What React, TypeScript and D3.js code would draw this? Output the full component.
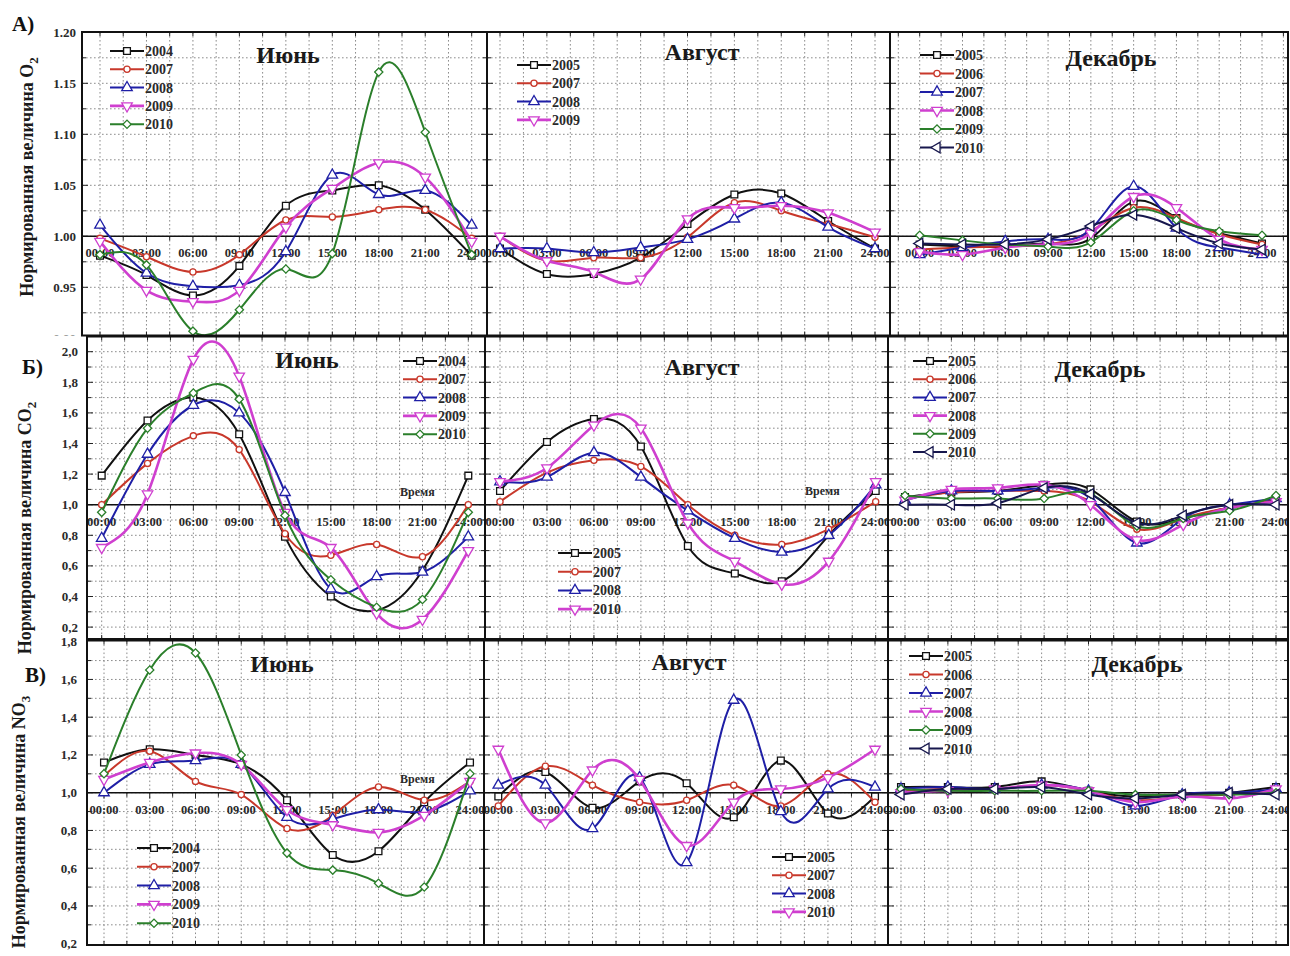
import React from "react";
import * as d3 from "d3";

// ---------- DATA ----------
const HOURS = [0, 3, 6, 9, 12, 15, 18, 21, 24];
const HOUR_LABELS = ["00:00", "03:00", "06:00", "09:00", "12:00", "15:00", "18:00", "21:00", "24:00"];
const MONTHS = ["Июнь", "Август", "Декабрь"];
const ROW_LETTERS = ["А)", "Б)", "В)"];
const Y_TITLES: [string, string][] = [
  ["Нормированная величина O", "2"],
  ["Нормированная величина CO", "2"],
  ["Нормированная величина NO", "3"],
];
const TIME_LABEL = "Время";

const O2_TICKS = [0.9, 0.95, 1.0, 1.05, 1.1, 1.15, 1.2];
const O2_TICK_LABELS = ["0.90", "0.95", "1.00", "1.05", "1.10", "1.15", "1.20"];
const CO2_TICKS = [0.2, 0.4, 0.6, 0.8, 1.0, 1.2, 1.4, 1.6, 1.8, 2.0];
const CO2_TICK_LABELS = ["0,2", "0,4", "0,6", "0,8", "1,0", "1,2", "1,4", "1,6", "1,8", "2,0"];
const NO3_TICKS = [0.2, 0.4, 0.6, 0.8, 1.0, 1.2, 1.4, 1.6, 1.8];
const NO3_TICK_LABELS = ["0,2", "0,4", "0,6", "0,8", "1,0", "1,2", "1,4", "1,6", "1,8"];

type Series = { year: string; values: number[] };

const O2_JUNE: Series[] = [
  { year: "2004", values: [0.981, 0.962, 0.942, 0.971, 1.03, 1.045, 1.05, 1.026, 0.981] },
  { year: "2007", values: [0.998, 0.98, 0.965, 0.982, 1.016, 1.019, 1.026, 1.026, 0.998] },
  { year: "2008", values: [1.011, 0.964, 0.951, 0.952, 0.985, 1.06, 1.041, 1.045, 1.011] },
  { year: "2009", values: [0.995, 0.947, 0.936, 0.947, 1.009, 1.047, 1.072, 1.058, 0.995] },
  { year: "2010", values: [0.982, 0.972, 0.907, 0.928, 0.968, 0.983, 1.161, 1.102, 0.982] },
];
const O2_AUGUST: Series[] = [
  { year: "2005", values: [0.988, 0.963, 0.963, 0.979, 1.012, 1.041, 1.042, 1.015, 0.988] },
  { year: "2007", values: [1.0, 0.976, 0.979, 0.979, 0.999, 1.033, 1.025, 1.012, 0.999] },
  { year: "2008", values: [0.988, 0.988, 0.984, 0.989, 0.997, 1.017, 1.033, 1.009, 0.988] },
  { year: "2009", values: [1.0, 0.976, 0.965, 0.958, 1.017, 1.028, 1.03, 1.023, 1.004] },
];
const O2_DECEMBER: Series[] = [
  { year: "2005", values: [0.992, 0.99, 0.99, 0.993, 0.998, 1.034, 1.018, 1.003, 0.993] },
  { year: "2006", values: [0.987, 0.989, 0.99, 0.992, 1.005, 1.028, 1.018, 1.002, 0.992] },
  { year: "2007", values: [0.982, 0.989, 0.995, 0.997, 1.007, 1.049, 1.008, 0.989, 0.982] },
  { year: "2008", values: [0.985, 0.982, 0.989, 0.992, 1.003, 1.039, 1.028, 0.997, 0.987] },
  { year: "2009", values: [1.001, 0.996, 0.992, 0.99, 0.994, 1.025, 1.016, 1.005, 1.001] },
  { year: "2010", values: [0.993, 0.992, 0.992, 0.997, 1.01, 1.021, 1.008, 0.993, 0.987] },
];

const CO2_JUNE: Series[] = [
  { year: "2004", values: [1.19, 1.55, 1.7, 1.46, 0.79, 0.4, 0.31, 0.57, 1.19] },
  { year: "2007", values: [1.0, 1.27, 1.45, 1.36, 0.81, 0.67, 0.74, 0.66, 1.0] },
  { year: "2008", values: [0.78, 1.33, 1.65, 1.6, 1.08, 0.45, 0.53, 0.56, 0.79] },
  { year: "2009", values: [0.72, 1.07, 1.95, 1.84, 0.95, 0.72, 0.29, 0.25, 0.7] },
  { year: "2010", values: [0.95, 1.5, 1.73, 1.69, 0.93, 0.51, 0.33, 0.38, 0.95] },
];
const CO2_AUGUST: Series[] = [
  { year: "2005", values: [1.09, 1.41, 1.56, 1.38, 0.73, 0.55, 0.5, 0.8, 1.09] },
  { year: "2007", values: [1.02, 1.21, 1.29, 1.25, 1.0, 0.8, 0.74, 0.84, 1.02] },
  { year: "2008", values: [1.15, 1.18, 1.34, 1.18, 0.96, 0.78, 0.69, 0.8, 1.13] },
  { year: "2010", values: [1.15, 1.24, 1.52, 1.5, 0.88, 0.63, 0.48, 0.63, 1.15] },
];
const CO2_DECEMBER: Series[] = [
  { year: "2005", values: [1.05, 1.08, 1.09, 1.13, 1.1, 0.89, 0.91, 0.98, 1.03] },
  { year: "2006", values: [1.04, 1.08, 1.09, 1.09, 1.02, 0.84, 0.91, 0.98, 1.03] },
  { year: "2007", values: [1.03, 1.09, 1.09, 1.11, 1.04, 0.75, 0.91, 1.0, 1.04] },
  { year: "2008", values: [1.03, 1.1, 1.11, 1.13, 1.0, 0.77, 0.87, 0.98, 1.02] },
  { year: "2009", values: [1.06, 1.04, 1.04, 1.04, 1.07, 0.86, 0.91, 0.96, 1.06] },
  { year: "2010", values: [1.0, 1.0, 1.01, 1.11, 1.07, 0.88, 0.93, 1.0, 1.0] },
];

const NO3_JUNE: Series[] = [
  { year: "2004", values: [1.16, 1.23, 1.2, 1.15, 0.96, 0.67, 0.69, 0.95, 1.16] },
  { year: "2007", values: [1.09, 1.22, 1.06, 0.99, 0.81, 0.88, 1.03, 0.96, 1.06] },
  { year: "2008", values: [1.0, 1.15, 1.17, 1.15, 0.87, 0.86, 0.91, 0.9, 1.01] },
  { year: "2009", values: [1.07, 1.16, 1.21, 1.15, 0.91, 0.83, 0.79, 0.88, 1.06] },
  { year: "2010", values: [1.1, 1.65, 1.74, 1.2, 0.68, 0.59, 0.52, 0.5, 1.1] },
];
const NO3_AUGUST: Series[] = [
  { year: "2005", values: [0.98, 1.11, 0.92, 1.06, 1.05, 0.87, 1.17, 0.89, 0.98] },
  { year: "2007", values: [0.93, 1.14, 1.04, 0.95, 0.96, 1.04, 0.93, 1.1, 0.95] },
  { year: "2008", values: [1.04, 1.04, 0.81, 1.08, 0.63, 1.49, 0.9, 1.02, 1.03] },
  { year: "2010", values: [1.23, 0.84, 1.12, 1.07, 0.72, 0.95, 1.02, 1.08, 1.23] },
];
const NO3_DECEMBER: Series[] = [
  { year: "2005", values: [1.03, 1.03, 1.03, 1.06, 1.01, 0.98, 0.99, 1.0, 1.03] },
  { year: "2006", values: [1.01, 1.02, 1.02, 1.04, 1.01, 0.96, 0.98, 0.99, 1.02] },
  { year: "2007", values: [1.02, 1.03, 1.02, 1.04, 1.01, 0.93, 0.99, 1.0, 1.02] },
  { year: "2008", values: [1.0, 1.01, 1.02, 1.04, 1.01, 0.95, 0.98, 0.97, 1.02] },
  { year: "2009", values: [1.02, 1.01, 1.01, 1.01, 1.01, 0.99, 0.99, 0.99, 1.0] },
  { year: "2010", values: [0.99, 1.02, 1.02, 1.03, 0.99, 0.97, 0.99, 1.0, 0.99] },
];

// ---------- STYLE / LAYOUT ----------
const SERIF = "'Liberation Serif', 'Times New Roman', serif";
const STYLES = [
  { color: "#111111", sym: d3.symbolSquare, size: 46, rot: 0, width: 2 },
  { color: "#c8382b", sym: d3.symbolCircle, size: 30, rot: 0, width: 2 },
  { color: "#1f1fa6", sym: d3.symbolTriangle, size: 48, rot: 0, width: 2 },
  { color: "#cf3fcf", sym: d3.symbolTriangle, size: 48, rot: 180, width: 2.6 },
  { color: "#2b7f2b", sym: d3.symbolSquare, size: 34, rot: 45, width: 2 },
  { color: "#17174d", sym: d3.symbolTriangle, size: 48, rot: -90, width: 2 },
];

const ROWS = [
  { top: 32, bottom: 335.5, domain: [0.9, 1.2], range: [338.3, 32.3], minor: 0.025, ticks: O2_TICKS, labels: O2_TICK_LABELS, labelX: 76, letter: [12, 31], titleX: 33, titleY: 177 },
  { top: 336.5, bottom: 639, domain: [0.2, 2.0], range: [627.1, 351.7], minor: 0.1, ticks: CO2_TICKS, labels: CO2_TICK_LABELS, labelX: 78, letter: [22, 374], titleX: 31, titleY: 528 },
  { top: 640.5, bottom: 945, domain: [0.2, 1.8], range: [943.7, 641.7], minor: 0.1, ticks: NO3_TICKS, labels: NO3_TICK_LABELS, labelX: 77, letter: [25, 682], titleX: 25, titleY: 822 },
];

const COLS = [
  [
    { left: 82, right: 487, x0: 100, x24: 471.7 },
    { left: 487, right: 890, x0: 500, x24: 875 },
    { left: 890, right: 1288, x0: 919.7, x24: 1262 },
  ],
  [
    { left: 87, right: 485, x0: 101.7, x24: 468.3 },
    { left: 485, right: 888, x0: 500, x24: 875.7 },
    { left: 888, right: 1288, x0: 905, x24: 1276 },
  ],
  [
    { left: 87, right: 485, x0: 104, x24: 470 },
    { left: 484, right: 888, x0: 498.3, x24: 875 },
    { left: 888, right: 1288, x0: 901, x24: 1276 },
  ],
];

const DATA: Series[][][] = [
  [O2_JUNE, O2_AUGUST, O2_DECEMBER],
  [CO2_JUNE, CO2_AUGUST, CO2_DECEMBER],
  [NO3_JUNE, NO3_AUGUST, NO3_DECEMBER],
];

// legend: [x of line start, y of first entry, step]
const LEGENDS = [
  [[110, 51, 18.3], [517, 65, 18.3], [920, 55, 18.5]],
  [[403, 361, 18.3], [558, 553, 18.7], [913, 361, 18.2]],
  [[137, 848, 18.8], [772, 857, 18.3], [909, 656, 18.5]],
];
// title: [center x, baseline y]
const TITLES = [
  [[288, 63], [702, 60], [1111, 66]],
  [[307, 368], [702, 375], [1100, 377]],
  [[282, 672], [689, 670], [1137, 672]],
];
// "Время" labels: [row, col, x, y]
const TIME_LABELS = [
  [1, 0, 400, 496],
  [1, 1, 805, 495],
  [2, 0, 400, 783],
];

function Marker({ x, y, st }: { x: number; y: number; st: typeof STYLES[0] }) {
  const d = d3.symbol(st.sym, st.size)() || "";
  return (
    <path
      d={d}
      transform={`translate(${x},${y}) rotate(${st.rot})`}
      fill="#ffffff"
      stroke={st.color}
      strokeWidth={1.3}
    />
  );
}

function Panel({ r, c }: { r: number; c: number }) {
  const row = ROWS[r];
  const col = COLS[r][c];
  const y = d3.scaleLinear().domain(row.domain).range(row.range);
  const x = d3.scaleLinear().domain([0, 24]).range([col.x0, col.x24]);
  const id = `clip-${r}-${c}`;

  const hMin = x.invert(col.left);
  const hMax = x.invert(col.right);
  const vGrid = d3
    .range(Math.ceil(hMin / 1.5), Math.floor(hMax / 1.5) + 1)
    .map((k) => k * 1.5)
    .filter((h) => x(h) > col.left + 2 && x(h) < col.right - 2);
  const vMin = y.invert(row.bottom);
  const vMax = y.invert(row.top);
  const hGrid = d3
    .range(Math.ceil(vMin / row.minor - 1e-6), Math.floor(vMax / row.minor + 1e-6) + 1)
    .map((k) => +(k * row.minor).toFixed(4))
    .filter((v) => y(v) > row.top + 2 && y(v) < row.bottom - 2);

  const line = d3
    .line<number>()
    .x((_, i) => x(HOURS[i]))
    .y((v) => y(v))
    .curve(d3.curveNatural);

  const series = DATA[r][c];
  const [lx, ly0, lstep] = LEGENDS[r][c];
  const [tx, ty] = TITLES[r][c];
  const y1 = y(1.0);

  return (
    <g>
      <defs>
        <clipPath id={id}>
          <rect x={col.left} y={row.top} width={col.right - col.left} height={row.bottom - row.top} />
        </clipPath>
      </defs>
      <rect x={col.left} y={row.top} width={col.right - col.left} height={row.bottom - row.top} fill="#ffffff" />
      {/* grid */}
      <g stroke="#8c8c8c" strokeWidth={1} strokeDasharray="1.6,2.4">
        {vGrid.map((h) => (
          <line key={`v${h}`} x1={x(h)} x2={x(h)} y1={row.top} y2={row.bottom} />
        ))}
        {hGrid.map((v) => (
          <line key={`h${v}`} x1={col.left} x2={col.right} y1={y(v)} y2={y(v)} />
        ))}
      </g>
      {/* border ticks */}
      <g stroke="#222" strokeWidth={1}>
        {hGrid.map((v) => {
          const major = Math.abs(v / (row.minor * 2) - Math.round(v / (row.minor * 2))) < 1e-6;
          const len = major ? 6 : 4;
          return (
            <g key={`t${v}`}>
              <line x1={col.left} x2={col.left + len} y1={y(v)} y2={y(v)} />
              <line x1={col.right} x2={col.right - len} y1={y(v)} y2={y(v)} />
            </g>
          );
        })}
        {vGrid.map((h) => {
          const major = Math.abs(h / 3 - Math.round(h / 3)) < 1e-6;
          return (
            <g key={`tx${h}`}>
              <line x1={x(h)} x2={x(h)} y1={row.top} y2={row.top + 4} />
              <line x1={x(h)} x2={x(h)} y1={row.bottom} y2={row.bottom - 4} />
              <line x1={x(h)} x2={x(h)} y1={y1} y2={y1 + (major ? 6 : 4)} />
            </g>
          );
        })}
      </g>
      {/* x axis at 1.0 */}
      <line x1={col.left} x2={col.right} y1={y1} y2={y1} stroke="#111" strokeWidth={1.6} />
      <g clipPath={`url(#${id})`}>
        {HOURS.map((h, i) => (
          <text
            key={`xl${h}`}
            x={x(h)}
            y={y1 + 21}
            textAnchor="middle"
            fontFamily={SERIF}
            fontWeight="bold"
            fontSize={12.5}
            fill="#2a2a2a"
          >
            {HOUR_LABELS[i]}
          </text>
        ))}
      </g>
      {/* series */}
      <g clipPath={`url(#${id})`}>
        {series.map((s, si) => {
          const st = STYLES[si];
          return (
            <g key={s.year}>
              <path d={line(s.values) || ""} fill="none" stroke={st.color} strokeWidth={st.width} />
              {s.values.map((v, i) => (
                <Marker key={i} x={x(HOURS[i])} y={y(v)} st={st} />
              ))}
            </g>
          );
        })}
      </g>
      {/* title */}
      <text x={tx} y={ty} textAnchor="middle" fontFamily={SERIF} fontWeight="bold" fontSize={24} fill="#1a1a1a">
        {MONTHS[c]}
      </text>
      {/* legend */}
      {series.map((s, si) => {
        const st = STYLES[si];
        const ly = ly0 + si * lstep;
        return (
          <g key={`lg${s.year}`}>
            <line x1={lx} x2={lx + 34} y1={ly} y2={ly} stroke={st.color} strokeWidth={st.width} />
            <Marker x={lx + 17} y={ly} st={st} />
            <text x={lx + 35} y={ly + 5} fontFamily={SERIF} fontWeight="bold" fontSize={14} fill="#2a2a2a">
              {s.year}
            </text>
          </g>
        );
      })}
      {/* border */}
      <rect
        x={col.left}
        y={row.top}
        width={col.right - col.left}
        height={row.bottom - row.top}
        fill="none"
        stroke="#111"
        strokeWidth={2}
      />
    </g>
  );
}

function RowAxis({ r }: { r: number }) {
  const row = ROWS[r];
  const y = d3.scaleLinear().domain(row.domain).range(row.range);
  const clip = `rowclip-${r}`;
  return (
    <g>
      <defs>
        <clipPath id={clip}>
          <rect x={0} y={r === 0 ? 0 : row.top - 20} width={90} height={r === 0 ? row.bottom : row.bottom - row.top + 40} />
        </clipPath>
      </defs>
      <g clipPath={`url(#${clip})`}>
        {row.ticks.map((t, i) => (
          <text
            key={t}
            x={row.labelX}
            y={y(t) + 4.5}
            textAnchor="end"
            fontFamily={SERIF}
            fontWeight="bold"
            fontSize={13}
            fill="#2a2a2a"
          >
            {row.labels[i]}
          </text>
        ))}
      </g>
      <text x={row.letter[0]} y={row.letter[1]} fontFamily={SERIF} fontWeight="bold" fontSize={21} fill="#111">
        {ROW_LETTERS[r]}
      </text>
      <text
        transform={`translate(${row.titleX},${row.titleY}) rotate(-90)`}
        textAnchor="middle"
        fontFamily={SERIF}
        fontWeight="bold"
        fontSize={18}
        fill="#1a1a1a"
      >
        {Y_TITLES[r][0]}
        <tspan fontSize={13} dy={5}>
          {Y_TITLES[r][1]}
        </tspan>
      </text>
    </g>
  );
}

export default function App() {
  return (
    <svg
      width={1290}
      height={956}
      style={{ position: "absolute", left: 0, top: 0, background: "#ffffff" }}
    >
      <rect x={0} y={0} width={1290} height={956} fill="#ffffff" />
      {[0, 1, 2].map((r) => (
        <g key={`row${r}`}>
          {[0, 1, 2].map((c) => (
            <Panel key={`p${r}${c}`} r={r} c={c} />
          ))}
          <RowAxis r={r} />
        </g>
      ))}
      {TIME_LABELS.map(([r, c, tx, ty]) => (
        <text key={`tl${r}${c}`} x={tx} y={ty} fontFamily={SERIF} fontWeight="bold" fontSize={12} fill="#2a2a2a">
          {TIME_LABEL}
        </text>
      ))}
    </svg>
  );
}
